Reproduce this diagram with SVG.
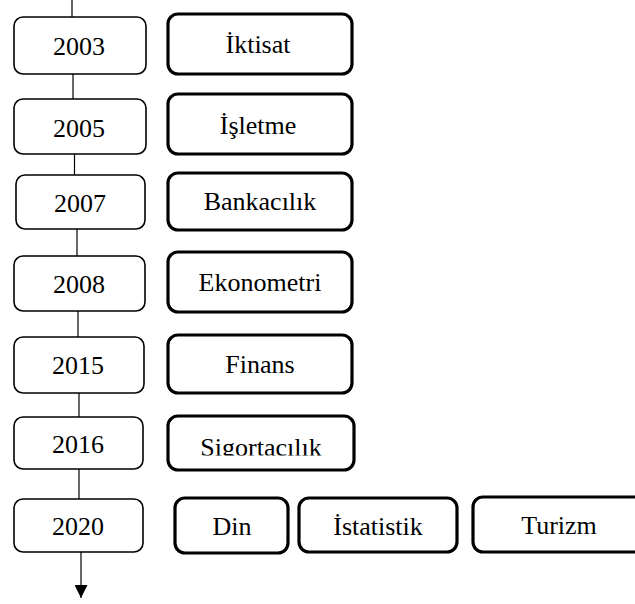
<svg xmlns="http://www.w3.org/2000/svg" width="635" height="604" viewBox="0 0 635 604">
<style>
.yr{fill:#fff;stroke:#000;stroke-width:1.6}
.fld{fill:#fff;stroke:#000;stroke-width:3.2}
text{font-family:"Liberation Serif","Times New Roman",serif;font-size:26px;fill:#000;text-anchor:middle}
.ln{stroke:#000;stroke-width:1.2;fill:none}
</style>
<defs>
<marker id="ah" viewBox="0 0 10 10" refX="10" refY="5" markerWidth="15" markerHeight="13" markerUnits="userSpaceOnUse" orient="auto">
<path d="M0,0 L10,5 L0,10 z" fill="#000"/>
</marker>
<clipPath id="clipS"><rect x="160" y="410" width="200" height="45.5"/></clipPath>
</defs>
<g id="connectors">
<line class="ln" x1="72" y1="0" x2="72" y2="17"/>
<line class="ln" x1="73" y1="74" x2="73" y2="99"/>
<line class="ln" x1="74.5" y1="154" x2="74.5" y2="175"/>
<line class="ln" x1="77" y1="229" x2="77" y2="256"/>
<line class="ln" x1="78" y1="311" x2="78" y2="337"/>
<line class="ln" x1="79" y1="393" x2="79" y2="417"/>
<line class="ln" x1="79" y1="469" x2="79" y2="499"/>
<line class="ln" x1="81" y1="552" x2="81" y2="598" marker-end="url(#ah)"/>
</g>
<g id="y2003"><rect class="yr" x="14" y="17" width="132" height="57" rx="9"/><text x="79" y="55">2003</text></g>
<g id="iktisat"><rect class="fld" x="168" y="14" width="184" height="60" rx="10"/><text x="258" y="53">İktisat</text></g>
<g id="y2005"><rect class="yr" x="14" y="99" width="132" height="55" rx="9"/><text x="79" y="137">2005</text></g>
<g id="isletme"><rect class="fld" x="168" y="94" width="184" height="60" rx="10"/><text x="258" y="134">İşletme</text></g>
<g id="y2007"><rect class="yr" x="16" y="175" width="129" height="54" rx="9"/><text x="80" y="212">2007</text></g>
<g id="bankacilik"><rect class="fld" x="168" y="173" width="184" height="57" rx="10"/><text x="260" y="210">Bankacılık</text></g>
<g id="y2008"><rect class="yr" x="14" y="256" width="131" height="55" rx="9"/><text x="79" y="293">2008</text></g>
<g id="ekonometri"><rect class="fld" x="168" y="252" width="184" height="60" rx="10"/><text x="260" y="291">Ekonometri</text></g>
<g id="y2015"><rect class="yr" x="14" y="337" width="130" height="56" rx="9"/><text x="78" y="374">2015</text></g>
<g id="finans"><rect class="fld" x="168" y="335" width="184" height="58" rx="10"/><text x="260" y="373">Finans</text></g>
<g id="y2016"><rect class="yr" x="14" y="417" width="129" height="52" rx="9"/><text x="78" y="453">2016</text></g>
<g id="sigortacilik"><rect class="fld" x="168" y="416" width="186" height="54" rx="10"/><text x="261" y="456" clip-path="url(#clipS)">Sigortacılık</text></g>
<g id="y2020"><rect class="yr" x="14" y="499" width="129" height="53" rx="9"/><text x="78" y="535">2020</text></g>
<g id="din"><rect class="fld" x="175" y="498" width="113" height="55" rx="10"/><text x="232" y="535">Din</text></g>
<g id="istatistik"><rect class="fld" x="299" y="498" width="158" height="54" rx="10"/><text x="378" y="535">İstatistik</text></g>
<g id="turizm"><rect class="fld" x="473" y="497" width="175" height="55" rx="10"/><text x="559" y="534">Turizm</text></g>
</svg>
